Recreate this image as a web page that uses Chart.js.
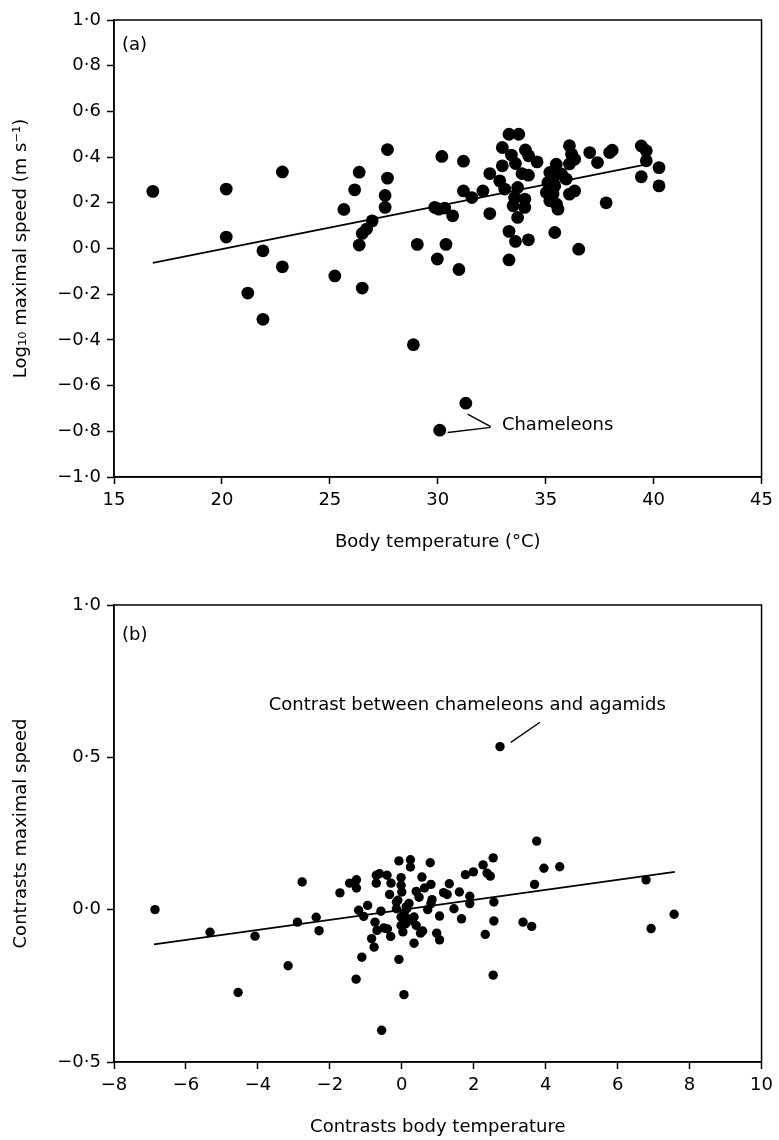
<!DOCTYPE html>
<html>
<head>
<meta charset="utf-8">
<script src="https://cdn.jsdelivr.net/npm/chart.js@4/dist/chart.umd.min.js"></script>
<style>
  html, body { margin: 0; padding: 0; background: #fff; }
  .panel { position: absolute; left: 0; width: 779px; height: 570px; }
  #wrapA { top: 0; }
  #wrapB { top: 570px; }
</style>
</head>
<body>
<div class="panel" id="wrapA"><canvas id="chartA" width="779" height="570"></canvas></div>
<div class="panel" id="wrapB"><canvas id="chartB" width="779" height="570"></canvas></div>
<script>
// (a) body temperature (°C) vs log10 maximal speed
const bodyTemp = [
  16.8, 20.2, 20.2, 21.2, 21.9, 21.9, 22.8, 22.8,
  25.23, 25.65, 26.15, 26.36, 26.36, 26.5, 26.7, 26.5, 26.96, 27.56, 27.56, 27.67, 27.67,
  28.87, 29.05, 29.86, 29.98, 30.19, 30.32, 30.38, 30.69, 30.98, 31.19, 31.19, 31.58,
  32.09, 32.41, 32.41, 30.09, 31.3, 30.05,
  33.3, 33.75, 32.99, 33.41, 33.6, 32.99, 34.06, 34.21, 34.6, 33.9, 34.2, 32.87, 33.1,
  33.7, 33.56, 34.03, 33.49, 34.03, 33.7, 33.3, 33.6, 34.2, 33.3,
  36.1, 36.2, 36.34, 36.1, 37.04, 37.4, 37.96, 38.08, 39.43, 39.66, 39.66, 40.25, 39.43, 40.25,
  35.49, 35.19, 35.42, 35.73, 35.95, 35.1, 35.42, 35.03, 35.34, 35.19, 35.5, 35.57,
  36.1, 36.34, 37.8, 35.42, 36.53
];
const logSpeed = [
  0.25, 0.26, 0.05, -0.195, -0.01, -0.31, 0.335, -0.08,
  -0.12, 0.171, 0.257, 0.334, 0.015, 0.066, 0.085, -0.173, 0.121, 0.232, 0.18, 0.308, 0.433,
  -0.421, 0.018, 0.18, -0.046, 0.403, 0.177, 0.018, 0.143, -0.092, 0.382, 0.252, 0.223,
  0.252, 0.328, 0.153, -0.795, -0.677, 0.172,
  0.5, 0.5, 0.442, 0.409, 0.372, 0.362, 0.431, 0.406, 0.379, 0.328, 0.321, 0.296, 0.26,
  0.267, 0.223, 0.216, 0.187, 0.18, 0.136, 0.075, 0.031, 0.038, -0.05,
  0.45, 0.413, 0.391, 0.37, 0.42, 0.376, 0.42, 0.43, 0.449, 0.428, 0.384, 0.354, 0.314, 0.274,
  0.369, 0.333, 0.318, 0.326, 0.304, 0.289, 0.274, 0.245, 0.238, 0.209, 0.194, 0.172,
  0.238, 0.252, 0.2, 0.07, -0.003
];
const fitTempA = [16.8, 39.5];
const fitSpeedA = [-0.063, 0.365];
const xTicksA = [15, 20, 25, 30, 35, 40, 45];
const yTicksA = [-1, -0.8, -0.6, -0.4, -0.2, 0, 0.2, 0.4, 0.6, 0.8, 1];

// (b) independent contrasts
const contrastTemp = [
  -6.86, -5.33, -4.08, -4.55, -3.16, -2.9, -2.77, -2.38, -2.3, -1.72, -1.45, -1.26, -1.26,
  -1.2, -1.06, -0.95, -1.11, -1.27, -0.84, -0.77, -0.745, -0.69, -0.56, -0.58, -0.4, -0.31,
  -0.34, -0.71, -0.71, -0.41, -0.3, -0.02, -0.02, -0.08, 0.24, 0.24, 0.79, 0.56, 0.81, 0.63,
  0.4, 0.48, 1.16, -0.15, -0.15, -0.08, 0.0, 0.06, 0.34, 0.4, 0.34, 0.52, 0.58, 0.72, 0.97,
  1.05, 1.05, 1.26, 1.32, 1.45, 1.6, 1.66, 1.89, 1.89, 2.32, 2.56, 2.56, 2.54, 3.37, 3.61,
  3.69, 6.79, 6.93, 7.57, 3.75, 3.95, 4.39, 2.54, 2.26, 2.37, 1.77, 1.99,
  -0.02, -0.02, 0.03, 0.11, 0.17, 0.06, 0.14, 0.84, 2.73,
  -0.11, 0.12, 0.81, 2.46, -0.62, 0.28, -0.5, 0.2
];
const contrastSpeed = [
  0.0, -0.074, -0.087, -0.272, -0.184, -0.041, 0.091, -0.025, -0.069, 0.055, 0.087, 0.098, 0.071,
  -0.002, -0.022, 0.014, -0.156, -0.228, -0.095, -0.123, -0.041, -0.068, -0.396, -0.005, -0.063, -0.088,
  0.05, 0.113, 0.087, 0.113, 0.087, 0.105, 0.08, 0.16, 0.164, 0.14, 0.154, 0.107, 0.083, 0.071,
  0.06, 0.041, 0.056, 0.025, 0.003, -0.163, 0.058, -0.279, -0.024, -0.052, -0.11, -0.077, -0.07, 0.0, -0.077,
  -0.099, -0.021, 0.05, 0.085, 0.003, 0.058, -0.03, 0.044, 0.02, -0.081, 0.025, -0.037, -0.215, -0.041, -0.055,
  0.083, 0.098, -0.062, -0.015, 0.225, 0.136, 0.141, 0.17, 0.147, 0.12, 0.115, 0.124,
  -0.024, -0.052, -0.073, -0.046, -0.03, -0.013, 0.003, 0.033, 0.535,
  0.031, 0.009, 0.02, 0.11, 0.118, -0.035, -0.06, 0.02
];
const fitTempB = [-6.89, 7.59];
const fitSpeedB = [-0.114, 0.124];
const xTicksB = [-8, -6, -4, -2, 0, 2, 4, 6, 8, 10];
const yTicksB = [-0.5, 0, 0.5, 1];

const FONT = '"DejaVu Sans", sans-serif';
const minus = s => s.replace('-', '\u2212');
const fmtDot = v => minus((Math.abs(v) < 1e-9 ? 0 : v).toFixed(1).replace('.', '\u00b7'));
const fmtInt = v => minus(String(v));

// box around the plot, panel tag and annotation with leader lines
const framePlugin = {
  id: 'frame',
  afterDraw(chart, args, opts) {
    const { ctx, chartArea: a, scales: { x, y } } = chart;
    ctx.save();
    ctx.strokeStyle = '#000';
    ctx.lineWidth = 1.5;
    ctx.strokeRect(a.left, a.top, a.right - a.left, a.bottom - a.top);
    ctx.fillStyle = '#000';
    ctx.font = '18px ' + FONT;
    ctx.textAlign = 'left';
    ctx.textBaseline = 'middle';
    ctx.fillText(opts.tag, a.left + 8, a.top + opts.tagDy);
    const n = opts.note;
    ctx.fillText(n.text, x.getPixelForValue(n.x), y.getPixelForValue(n.y));
    ctx.lineWidth = 1.4;
    n.leaders.forEach(([x1, y1, x2, y2]) => {
      ctx.beginPath();
      ctx.moveTo(x.getPixelForValue(x1), y.getPixelForValue(y1));
      ctx.lineTo(x.getPixelForValue(x2), y.getPixelForValue(y2));
      ctx.stroke();
    });
    ctx.restore();
  }
};

function axis(ticks, fmt, title, fit, titlePad) {
  return {
    type: 'linear',
    min: ticks[0],
    max: ticks[ticks.length - 1],
    afterBuildTicks: s => { s.ticks = ticks.map(v => ({ value: v })); },
    ticks: { callback: fmt, color: '#000', font: { family: FONT, size: 18 }, padding: 6, autoSkip: false, maxRotation: 0 },
    grid: { drawOnChartArea: false, tickLength: 7, tickColor: '#000', tickWidth: 1.5 },
    border: { color: '#000', width: 1.5 },
    title: { display: true, text: title, color: '#000', font: { family: FONT, size: 18 }, padding: titlePad },
    afterFit: fit
  };
}

function makeChart(id, xs, ys, fx, fy, r, opts) {
  const pts = xs.map((v, i) => ({ x: v, y: ys[i] }));
  const fit = fx.map((v, i) => ({ x: v, y: fy[i] }));
  return new Chart(document.getElementById(id), {
    type: 'scatter',
    data: {
      datasets: [
        { data: pts, backgroundColor: '#000', borderWidth: 0, pointRadius: r },
        { type: 'line', data: fit, borderColor: '#000', borderWidth: 1.6, pointRadius: 0, fill: false }
      ]
    },
    options: {
      responsive: false,
      animation: false,
      layout: { padding: { top: opts.top, right: 12, left: 0, bottom: 0 } },
      plugins: { legend: { display: false }, tooltip: { enabled: false }, frame: opts.frame },
      scales: {
        x: axis(opts.xTicks, opts.xFmt, opts.xTitle, s => { s.height = opts.xH; }, { top: 4, bottom: opts.xTitlePad }),
        y: axis(opts.yTicks, fmtDot, opts.yTitle, s => { s.width = 114; }, { top: 11, bottom: 0 })
      }
    },
    plugins: [framePlugin]
  });
}

makeChart('chartA', bodyTemp, logSpeed, fitTempA, fitSpeedA, 6.4, {
  top: 20, xH: 93, xTitlePad: 17,
  xTicks: xTicksA, yTicks: yTicksA, xFmt: fmtInt,
  xTitle: 'Body temperature (\u00b0C)',
  yTitle: 'Log\u2081\u2080 maximal speed (m s\u207b\u00b9)',
  frame: {
    tag: '(a)', tagDy: 25,
    note: {
      text: 'Chameleons', x: 32.97, y: -0.776,
      leaders: [[30.46, -0.805, 32.45, -0.783], [31.38, -0.725, 32.45, -0.78]]
    }
  }
});

makeChart('chartB', contrastTemp, contrastSpeed, fitTempB, fitSpeedB, 4.7, {
  top: 35, xH: 78, xTitlePad: 2,
  xTicks: xTicksB, yTicks: yTicksB, xFmt: fmtInt,
  xTitle: 'Contrasts body temperature',
  yTitle: 'Contrasts maximal speed',
  frame: {
    tag: '(b)', tagDy: 30,
    note: {
      text: 'Contrast between chameleons and agamids', x: -3.7, y: 0.671,
      leaders: [[3.84, 0.615, 3.03, 0.549]]
    }
  }
});
</script>
</body>
</html>
